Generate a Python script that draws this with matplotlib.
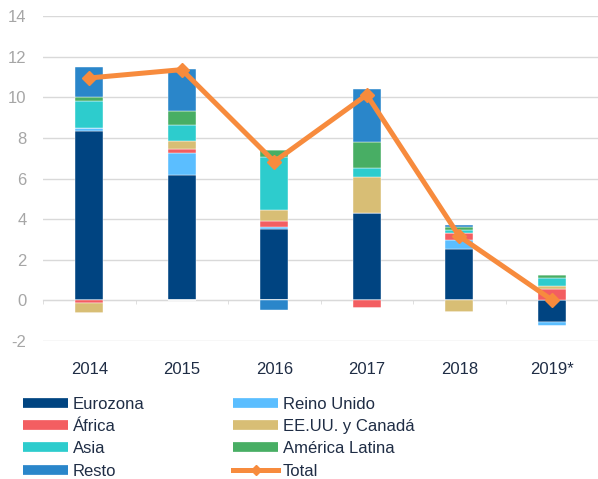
import matplotlib
matplotlib.use("Agg")
import matplotlib.pyplot as plt
from matplotlib.lines import Line2D
import numpy as np

plt.rcParams['font.family'] = ['Liberation Sans', 'DejaVu Sans']
plt.rcParams['axes.unicode_minus'] = False

years = ["2014", "2015", "2016", "2017", "2018", "2019*"]
eurozona = [8.35, 6.17, 3.50, 4.31, 2.52, -1.05]
reino_unido = [0.15, 1.07, 0.12, 0.00, 0.45, -0.22]
africa = [-0.15, 0.22, 0.30, -0.35, 0.35, 0.56]
eeuu = [-0.45, 0.41, 0.52, 1.78, -0.55, 0.16]
asia = [1.30, 0.77, 2.64, 0.41, 0.15, 0.37]
latam = [0.20, 0.69, 0.30, 1.29, 0.12, 0.17]
resto = [1.50, 2.06, -0.45, 2.63, 0.10, 0.00]
total = [10.95, 11.36, 6.83, 10.12, 3.16, 0.03]

series = [
    ("Eurozona", eurozona, "#004481"),
    ("Reino Unido", reino_unido, "#5bbeff"),
    ("África", africa, "#f35e61"),
    ("EE.UU. y Canadá", eeuu, "#d8be75"),
    ("Asia", asia, "#2dcccd"),
    ("América Latina", latam, "#48ae64"),
    ("Resto", resto, "#2a86ca"),
]

fig = plt.figure(figsize=(5.98, 4.79), dpi=100)
ax = fig.add_axes([0.072, 0.288, 0.928, 0.6786])

x = np.arange(len(years))
pos_base = np.zeros(len(years))
neg_base = np.zeros(len(years))
for name, vals, col in series:
    v = np.array(vals, dtype=float)
    pos = np.where(v > 0, v, 0)
    neg = np.where(v < 0, v, 0)
    ax.bar(x, pos, bottom=pos_base, width=0.3, color=col, zorder=2,
           edgecolor="white", linewidth=0.3)
    ax.bar(x, neg, bottom=neg_base, width=0.3, color=col, zorder=2,
           edgecolor="white", linewidth=0.3)
    pos_base += pos
    neg_base += neg

orange = "#f78b3d"
ax.plot(x, total, color=orange, lw=3.6, marker="D", markersize=7,
        zorder=3, solid_joinstyle="miter")

ax.set_xlim(-0.5, 5.5)
ax.set_ylim(-2, 14)
ax.set_yticks(np.arange(-2, 15, 2))
ax.grid(axis="y", color="#d9d9d9", lw=1.0, zorder=0)
ax.set_axisbelow(True)
for s in ["top", "right", "left"]:
    ax.spines[s].set_visible(False)
ax.spines["bottom"].set_position(("data", 0))
ax.spines["bottom"].set_color("#d9d9d9")
ax.spines["bottom"].set_zorder(1)
ax.set_xticks(x)
ax.set_xticklabels([])
ax.set_xticks(np.arange(-0.5, 6, 1), minor=True)
ax.tick_params(axis="x", which="major", length=0)
ax.tick_params(axis="x", which="minor", length=3, color="#d9d9d9", direction="out")
ax.tick_params(axis="y", length=0, labelsize=12, labelcolor="#a6a6a6", pad=12)
for xi, lab in zip(x, years):
    ax.text(xi, -3.4, lab, ha="center", va="center", fontsize=12,
            color="#1f2d45", transform=ax.transData)

handles = [Line2D([0], [0], color=c, lw=7, solid_capstyle="butt") for _, _, c in series]
labels = [n for n, _, _ in series]
handles.append(Line2D([0], [0], color=orange, lw=3.6, marker="D", markersize=5))
labels.append("Total")
order = [0, 2, 4, 6, 1, 3, 5, 7]
leg = fig.legend([handles[i] for i in order], [labels[i] for i in order],
                 ncol=2, loc="upper left", bbox_to_anchor=(0.0385, 0.172),
                 frameon=False, fontsize=12, handlelength=2.7,
                 handletextpad=0.3, labelspacing=0.44, columnspacing=5.3,
                 borderaxespad=0, borderpad=0)
for t in leg.get_texts():
    t.set_color("#1f2d45")

fig.savefig("out.png", dpi=100)
